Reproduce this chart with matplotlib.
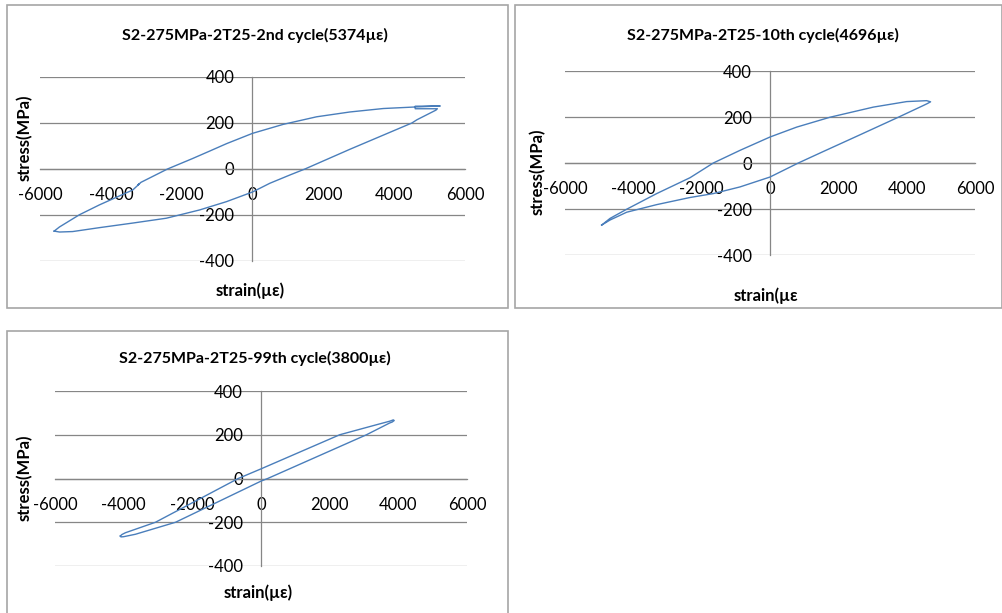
import matplotlib
matplotlib.use('Agg')
import matplotlib.pyplot as plt
from matplotlib.patches import Rectangle

plt.rcParams['font.family'] = ['Lato', 'DejaVu Sans']
plt.rcParams['axes.unicode_minus'] = False

W, H = 1003, 613

# 2nd cycle (5374 µε): loading branch, then unloading branch
c2_up_strain = [-5600, -5450, -4888, -4322, -3379, -3190, -3240, -3150, -2400, -1700, -1208, -736,
                0, 866, 1811, 2754, 3697, 4642, 5300]
c2_up_stress = [-270, -252, -199, -156, -91, -64, -70, -58, 0, 45, 78, 110,
                155, 194, 227, 248, 263, 270, 274]
c2_dn_strain = [4594, 4594, 5220, 5180, 4642, 4500, 2754, 1481, 1056, 490, 0, -736, -1492,
                -2434, -3379, -4322, -5078, -5450, -5600]
c2_dn_stress = [273, 262, 262, 256, 214, 200, 86, 0, -26, -62, -100, -142, -178,
                -214, -235, -255, -272, -274, -270]

# 10th cycle (4696 µε)
c10_up_strain = [-4927, -4683, -4195, -3317, -2341, -1659, -878, 0, 780, 1756, 3024, 4000,
                 4585, 4700]
c10_up_stress = [-270, -241, -201, -133, -64, 0, 55, 113, 156, 199, 243, 267,
                 271, 266]
c10_dn_strain = [4600, 4488, 3756, 2537, 1561, 829, 0, -878, -1659, -2341, -3317, -4195,
                 -4683, -4850, -4927]
c10_dn_stress = [258, 250, 199, 116, 50, 0, -61, -104, -133, -150, -181, -214,
                 -248, -263, -270]

# 99th cycle (3800 µε)
c99_up_strain = [-4098, -4050, -3950, -3073, -664, 0, 2293, 3370, 3750, 3854, 3880]
c99_up_stress = [-263, -256, -248, -200, 0, 44, 200, 246, 262, 268, 265]
c99_dn_strain = [3820, 3750, 3073, 195, 0, -2488, -3659, -4000, -4080, -4098]
c99_dn_stress = [258, 254, 200, 0, -12, -200, -255, -266, -267, -263]

x_ticks = [-6000, -4000, -2000, 0, 2000, 4000, 6000]
y_ticks = [-400, -200, 0, 200, 400]

titles = ['S2-275MPa-2T25-2nd cycle(5374\u00b5\u03b5)',
          'S2-275MPa-2T25-10th cycle(4696\u00b5\u03b5)',
          'S2-275MPa-2T25-99th cycle(3800\u00b5\u03b5)']
x_labels = ['strain(\u00b5\u03b5)', 'strain(\u00b5\u03b5', 'strain(\u00b5\u03b5)']
y_label = 'stress(MPa)'

LINE = '#4a7ebb'
GRID = '#868686'
BOX = '#a6a6a6'


def fx(x):
    return x / W


def fy(y):
    return 1 - y / H


fig = plt.figure(figsize=(W / 100, H / 100), dpi=100)

# pixel layout: box, plot area, title pos, xlabel pos, ylabel pos
layout = [
    dict(box=(7, 5, 508, 308), area=(40, 77, 465, 261), title=(255, 35), xl=(250, 291), yl=(25, 138)),
    dict(box=(515, 5, 1002, 308), area=(565, 71, 975, 255), title=(763, 35), xl=(766, 296), yl=(538, 172)),
    dict(box=(7, 331, 508, 640), area=(55, 391, 467, 566), title=(255, 358), xl=(258, 593), yl=(25, 478)),
]
data = [
    (c2_up_strain + c2_dn_strain, c2_up_stress + c2_dn_stress),
    (c10_up_strain + c10_dn_strain, c10_up_stress + c10_dn_stress),
    (c99_up_strain + c99_dn_strain, c99_up_stress + c99_dn_stress),
]

for i, lay in enumerate(layout):
    bx0, by0, bx1, by1 = lay['box']
    fig.patches.append(Rectangle((fx(bx0), fy(by1)), fx(bx1 - bx0), (by1 - by0) / H,
                                 transform=fig.transFigure, fill=False,
                                 edgecolor=BOX, lw=1.2))
    x0, y0, x1, y1 = lay['area']
    ax = fig.add_axes([fx(x0), fy(y1), fx(x1 - x0), (y1 - y0) / H])
    ax.set_facecolor('none')
    strain, stress = data[i]
    ax.plot(strain, stress, color=LINE, lw=1.0, zorder=3)
    ax.set_xlim(-6000, 6000)
    ax.set_ylim(-400, 400)
    ax.set_xticks(x_ticks)
    ax.set_yticks(y_ticks)
    ax.yaxis.grid(True, color=GRID, lw=0.9)
    ax.set_axisbelow(True)
    for s in ['top', 'right']:
        ax.spines[s].set_visible(False)
    ax.spines['left'].set_position(('data', 0))
    ax.spines['bottom'].set_position(('data', 0))
    ax.spines['left'].set_color(GRID)
    ax.spines['bottom'].set_color(GRID)
    ax.spines['left'].set_linewidth(0.9)
    ax.spines['bottom'].set_linewidth(0.9)
    ax.tick_params(axis='x', length=0, pad=13, labelsize=12)
    ax.tick_params(axis='y', length=0, pad=13, labelsize=12)

    fig.text(fx(lay['title'][0]), fy(lay['title'][1]), titles[i], ha='center', va='center',
             fontsize=11.5, fontweight='bold')
    fig.text(fx(lay['xl'][0]), fy(lay['xl'][1]), x_labels[i], ha='center', va='center',
             fontsize=12, fontweight='bold')
    fig.text(fx(lay['yl'][0]), fy(lay['yl'][1]), y_label, ha='center', va='center',
             rotation=90, fontsize=12, fontweight='bold')

fig.savefig('out.png', dpi=100)
